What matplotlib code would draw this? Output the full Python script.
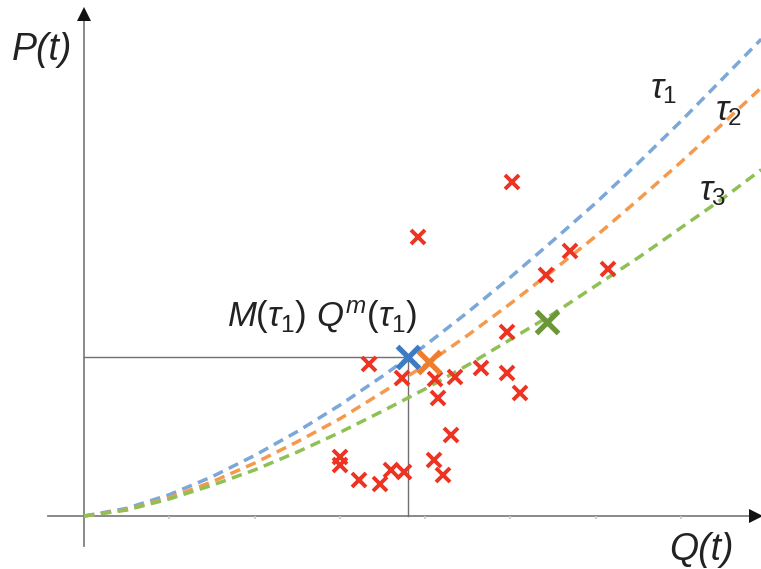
import matplotlib.pyplot as plt
import matplotlib as mpl

mpl.rcParams['font.family'] = 'Liberation Sans'
mpl.rcParams['mathtext.fontset'] = 'custom'
mpl.rcParams['mathtext.rm'] = 'Liberation Sans'
mpl.rcParams['mathtext.it'] = 'Liberation Sans:italic'

# quantile curves, read at fixed Q(t) positions
q_grid = [0, 0.5, 1, 1.5, 2, 2.5, 3, 3.5, 4, 4.5, 5, 5.5, 6, 6.5, 7, 7.5, 7.94]
tau1_curve = [0, 0.09, 0.25, 0.46, 0.71, 0.99, 1.30, 1.64, 2.00, 2.39, 2.80, 3.23, 3.67, 4.14, 4.63, 5.14, 5.59]
tau2_curve = [0, 0.075, 0.215, 0.40, 0.62, 0.87, 1.14, 1.45, 1.77, 2.12, 2.49, 2.88, 3.28, 3.71, 4.15, 4.61, 5.02]
tau3_curve = [0, 0.07, 0.20, 0.36, 0.54, 0.75, 0.98, 1.23, 1.49, 1.77, 2.07, 2.37, 2.70, 3.03, 3.38, 3.73, 4.06]

# observations
obs_q = [5.02, 3.92, 5.70, 5.42, 6.14, 4.96, 3.34, 3.73, 4.12, 4.35, 4.65, 4.96,
         4.15, 5.11, 4.30, 3.00, 3.00, 4.10, 4.21, 3.22, 3.47, 3.60, 3.75]
obs_p = [3.92, 3.27, 3.11, 2.83, 2.90, 2.16, 1.78, 1.62, 1.61, 1.63, 1.74, 1.68,
         1.38, 1.44, 0.95, 0.69, 0.60, 0.66, 0.48, 0.42, 0.38, 0.54, 0.52]

# quantile points M(tau) on each curve
m_q = [3.80, 4.05, 5.43]
m_p = [1.864, 1.80, 2.27]

tick_pos = [1, 2, 3, 4, 5, 6, 7]

curve_cols = ['#7ba7d9', '#f59a4c', '#8fc054']
point_cols = ['#3d7cc4', '#ee7d2e', '#6b963a']
tau_labels = [r'$\tau_1$', r'$\tau_2$', r'$\tau_3$']
tau_label_pos = [(6.80, 5.00), (7.56, 4.74), (7.37, 3.81)]

fig = plt.figure(figsize=(7.61, 5.69), dpi=100)
ax = fig.add_axes([0, 0, 1, 1])
ax.set_xlim(-0.985, 7.937)
ax.set_ylim(-0.621, 6.049)
ax.axis('off')

# axes with arrows
axis_col = '#808080'
ax.plot([-0.42, 7.85], [0, 0], color=axis_col, lw=1.3, zorder=1)
ax.plot([0, 0], [-0.35, 5.85], color=axis_col, lw=1.3, zorder=1)
ax.plot([7.88], [0], marker='>', ms=10, color='#111111', mew=0, zorder=2)
ax.plot([0], [5.89], marker='^', ms=10, color='#111111', mew=0, zorder=2)
ax.vlines(tick_pos, -0.04, 0, colors='#c8c8c8', lw=1.2, zorder=1)

# guide lines to M(tau1)
ax.plot([0, m_q[0], m_q[0]], [m_p[0], m_p[0], 0], color='#707070', lw=1.0, zorder=1)

for ys, c in zip([tau1_curve, tau2_curve, tau3_curve], curve_cols):
    ax.plot(q_grid, ys, color=c, lw=2.5, linestyle=(0, (3.0, 1.9)), zorder=2)

ax.plot(obs_q, obs_p, linestyle='none', marker='x', ms=10, mew=2.8, color='#ee3322', zorder=3)

for q, p, c in zip(m_q, m_p, point_cols):
    ax.plot([q], [p], marker='x', ms=16, mew=3.8, color=c, zorder=4)

for lab, (tx, ty) in zip(tau_labels, tau_label_pos):
    ax.text(tx, ty, lab, fontsize=25, ha='center', va='center', color='#222222')

ax.text(-0.49, 5.46, 'P(t)', fontsize=27, style='italic', ha='center', va='center', color='#222222')
ax.text(7.24, -0.40, 'Q(t)', fontsize=27, style='italic', ha='center', va='center', color='#222222')
ax.text(2.79, 2.33, r'$M(\tau_1)\ Q^m(\tau_1)$', fontsize=25, ha='center', va='center', color='#222222')

fig.savefig('out.png', dpi=100)
